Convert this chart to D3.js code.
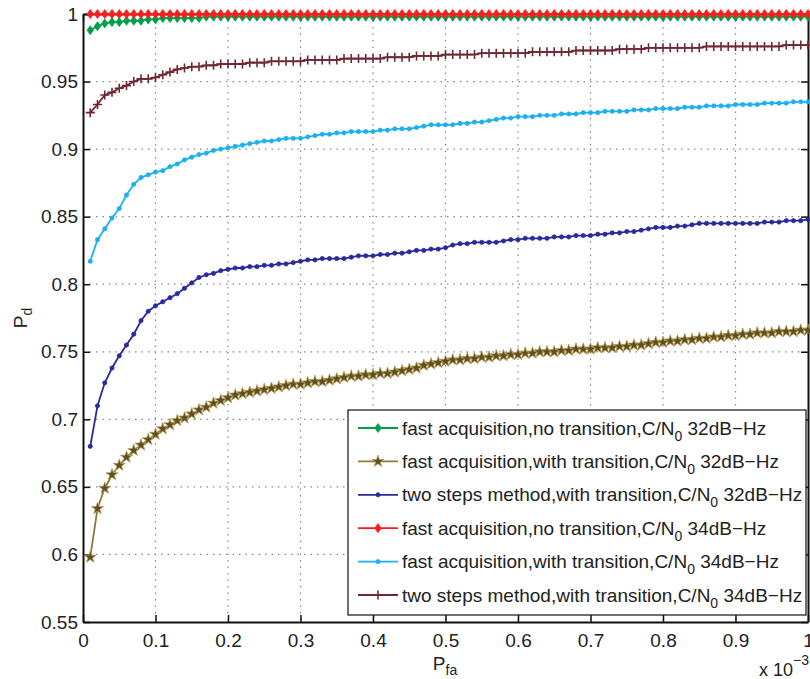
<!DOCTYPE html>
<html>
<head>
<meta charset="utf-8">
<script src="https://cdn.jsdelivr.net/npm/d3@7"></script>
<style>
body{margin:0;background:#fff}
svg{font-family:"Liberation Sans",Arial,Helvetica,sans-serif}
</style>
</head>
<body>
<div id="chart"></div>
<script>
// P_fa (x 10^-3)
const pfa = [0.01,0.02,0.03,0.04,0.05,0.06,0.07,0.08,0.09,0.10,
  0.11,0.12,0.13,0.14,0.15,0.16,0.17,0.18,0.19,0.20,
  0.21,0.22,0.23,0.24,0.25,0.26,0.27,0.28,0.29,0.30,
  0.31,0.32,0.33,0.34,0.35,0.36,0.37,0.38,0.39,0.40,
  0.41,0.42,0.43,0.44,0.45,0.46,0.47,0.48,0.49,0.50,
  0.51,0.52,0.53,0.54,0.55,0.56,0.57,0.58,0.59,0.60,
  0.61,0.62,0.63,0.64,0.65,0.66,0.67,0.68,0.69,0.70,
  0.71,0.72,0.73,0.74,0.75,0.76,0.77,0.78,0.79,0.80,
  0.81,0.82,0.83,0.84,0.85,0.86,0.87,0.88,0.89,0.90,
  0.91,0.92,0.93,0.94,0.95,0.96,0.97,0.98,0.99,1.00]

// P_d values
const fastNoTr32 = [0.988,0.991,0.993,0.994,0.994,0.995,0.995,0.995,0.996,0.996,
  0.997,0.997,0.997,0.997,0.997,0.997,0.998,0.998,0.998,0.998,
  0.998,0.998,0.998,0.998,0.998,0.998,0.998,0.998,0.998,0.998,
  0.998,0.998,0.998,0.998,0.998,0.998,0.998,0.998,0.998,0.998,
  0.998,0.998,0.998,0.998,0.998,0.998,0.998,0.998,0.998,0.998,
  0.998,0.998,0.998,0.998,0.998,0.998,0.998,0.998,0.998,0.998,
  0.998,0.998,0.998,0.998,0.998,0.998,0.998,0.998,0.998,0.998,
  0.998,0.998,0.998,0.998,0.998,0.998,0.998,0.998,0.998,0.998,
  0.998,0.998,0.998,0.998,0.998,0.998,0.998,0.998,0.998,0.998,
  0.998,0.998,0.998,0.998,0.998,0.998,0.998,0.998,0.998,0.998]

const fastTr32 = [0.598,0.634,0.649,0.659,0.666,0.672,0.677,0.681,0.685,0.689,
  0.693,0.696,0.699,0.701,0.704,0.707,0.709,0.712,0.714,0.716,
  0.718,0.719,0.720,0.721,0.722,0.723,0.724,0.725,0.726,0.726,
  0.727,0.728,0.728,0.729,0.730,0.731,0.732,0.732,0.733,0.733,
  0.734,0.734,0.735,0.736,0.737,0.738,0.740,0.741,0.742,0.743,
  0.744,0.744,0.745,0.745,0.746,0.746,0.747,0.747,0.748,0.748,
  0.749,0.749,0.750,0.750,0.750,0.751,0.751,0.752,0.752,0.752,
  0.753,0.753,0.753,0.754,0.754,0.755,0.755,0.756,0.757,0.757,
  0.758,0.758,0.759,0.759,0.760,0.760,0.761,0.761,0.762,0.762,
  0.763,0.763,0.764,0.764,0.764,0.765,0.765,0.765,0.766,0.766]

const twoStep32 = [0.680,0.710,0.727,0.738,0.747,0.755,0.763,0.773,0.780,0.784,
  0.787,0.790,0.793,0.797,0.801,0.805,0.807,0.808,0.810,0.811,
  0.812,0.812,0.813,0.813,0.814,0.814,0.815,0.815,0.816,0.817,
  0.818,0.818,0.819,0.819,0.819,0.819,0.820,0.821,0.821,0.821,
  0.822,0.822,0.823,0.823,0.824,0.825,0.825,0.826,0.826,0.827,
  0.829,0.830,0.830,0.831,0.831,0.831,0.831,0.832,0.833,0.833,
  0.834,0.834,0.834,0.834,0.835,0.835,0.835,0.836,0.836,0.836,
  0.837,0.837,0.838,0.838,0.839,0.839,0.840,0.841,0.842,0.842,
  0.842,0.843,0.843,0.844,0.845,0.845,0.845,0.845,0.845,0.845,
  0.845,0.845,0.845,0.846,0.846,0.846,0.847,0.847,0.847,0.848]

const fastNoTr34 = [1,1,1,1,1,1,1,1,1,1, 1,1,1,1,1,1,1,1,1,1,
  1,1,1,1,1,1,1,1,1,1, 1,1,1,1,1,1,1,1,1,1,
  1,1,1,1,1,1,1,1,1,1, 1,1,1,1,1,1,1,1,1,1,
  1,1,1,1,1,1,1,1,1,1, 1,1,1,1,1,1,1,1,1,1,
  1,1,1,1,1,1,1,1,1,1, 1,1,1,1,1,1,1,1,1,1]

const fastTr34 = [0.817,0.833,0.841,0.849,0.856,0.866,0.874,0.879,0.881,0.883,
  0.884,0.887,0.889,0.892,0.894,0.896,0.897,0.899,0.900,0.901,
  0.902,0.903,0.904,0.905,0.906,0.906,0.907,0.908,0.908,0.908,
  0.909,0.910,0.911,0.911,0.912,0.912,0.913,0.913,0.913,0.913,
  0.914,0.914,0.915,0.915,0.915,0.916,0.917,0.918,0.918,0.918,
  0.918,0.919,0.919,0.920,0.920,0.921,0.922,0.923,0.923,0.924,
  0.924,0.924,0.925,0.925,0.925,0.926,0.926,0.926,0.927,0.927,
  0.927,0.928,0.928,0.928,0.928,0.929,0.929,0.929,0.930,0.930,
  0.930,0.930,0.931,0.931,0.931,0.932,0.932,0.932,0.932,0.933,
  0.933,0.933,0.933,0.934,0.934,0.934,0.934,0.935,0.935,0.935]

const twoStep34 = [0.927,0.933,0.940,0.942,0.945,0.947,0.950,0.952,0.952,0.953,
  0.955,0.957,0.959,0.960,0.961,0.961,0.962,0.962,0.963,0.963,
  0.963,0.963,0.964,0.964,0.964,0.965,0.965,0.965,0.965,0.965,
  0.966,0.966,0.966,0.966,0.966,0.967,0.967,0.967,0.967,0.967,
  0.967,0.968,0.968,0.968,0.968,0.969,0.969,0.969,0.969,0.970,
  0.970,0.970,0.970,0.970,0.971,0.971,0.971,0.971,0.971,0.971,
  0.971,0.972,0.972,0.972,0.972,0.972,0.972,0.973,0.973,0.973,
  0.973,0.973,0.973,0.974,0.974,0.974,0.974,0.975,0.975,0.975,
  0.975,0.975,0.975,0.975,0.975,0.976,0.976,0.976,0.976,0.976,
  0.976,0.976,0.976,0.976,0.976,0.976,0.977,0.977,0.977,0.977]

const xTicks = [0,0.1,0.2,0.3,0.4,0.5,0.6,0.7,0.8,0.9,1]
const xTickLabels = ["0","0.1","0.2","0.3","0.4","0.5","0.6","0.7","0.8","0.9","1"]
const yTicks = [0.55,0.6,0.65,0.7,0.75,0.8,0.85,0.9,0.95,1]
const yTickLabels = ["0.55","0.6","0.65","0.7","0.75","0.8","0.85","0.9","0.95","1"]

const legendNames = ["fast acquisition,no transition,C/N", "fast acquisition,with transition,C/N",
  "two steps method,with transition,C/N", "fast acquisition,no transition,C/N",
  "fast acquisition,with transition,C/N", "two steps method,with transition,C/N"]
const legendCN = ["32dB\u2212Hz","32dB\u2212Hz","32dB\u2212Hz","34dB\u2212Hz","34dB\u2212Hz","34dB\u2212Hz"]

const seriesValues = [fastNoTr32, fastTr32, twoStep32, fastNoTr34, fastTr34, twoStep34]
// style per series: line colour, marker kind
const styles = [
  {color:'#00a04a', marker:'diamond', fill:'#00a04a'},
  {color:'#8f7a3c', marker:'star', fill:'#5e4e22'},
  {color:'#2a2a9c', marker:'dot', fill:'#2a2a9c'},
  {color:'#ff1c1c', marker:'diamond', fill:'#ff1c1c'},
  {color:'#1cb0f0', marker:'dot', fill:'#1cb0f0'},
  {color:'#6e2834', marker:'plus', fill:'#6e2834'}
]

const width = 810, height = 679
const mLeft = 83, mRight = 808, mTop = 14, mBottom = 622

const svg = d3.select('#chart').append('svg')
  .attr('width', width).attr('height', height)

const x = d3.scaleLinear().domain([0,1]).range([mLeft,mRight])
const y = d3.scaleLinear().domain([0.55,1]).range([mBottom,mTop])

// dotted grid
const grid = svg.append('g')
grid.selectAll('.vg').data(xTicks.slice(1,-1)).enter().append('line')
  .attr('x1',d=>x(d)).attr('x2',d=>x(d)).attr('y1',mTop).attr('y2',mBottom)
grid.selectAll('.hg').data(yTicks.slice(1,-1)).enter().append('line')
  .attr('x1',mLeft).attr('x2',mRight).attr('y1',d=>y(d)).attr('y2',d=>y(d))
grid.selectAll('line').attr('stroke','#888').attr('stroke-width',1.2)
  .attr('stroke-dasharray','1.5,5')

// axes with inward ticks, MATLAB style box
const fmtX = (d,i) => xTickLabels[i]
const fmtY = (d,i) => yTickLabels[i]
svg.append('g').attr('transform',`translate(0,${mBottom})`)
  .call(d3.axisBottom(x).tickValues(xTicks).tickFormat(fmtX).tickSizeInner(-7).tickSizeOuter(0).tickPadding(12))
svg.append('g').attr('transform',`translate(${mLeft},0)`)
  .call(d3.axisLeft(y).tickValues(yTicks).tickFormat(fmtY).tickSizeInner(-7).tickSizeOuter(0).tickPadding(5))
svg.append('g').attr('transform',`translate(0,${mTop})`)
  .call(d3.axisTop(x).tickValues(xTicks).tickFormat('').tickSizeInner(-7).tickSizeOuter(0))
svg.append('g').attr('transform',`translate(${mRight},0)`)
  .call(d3.axisRight(y).tickValues(yTicks).tickFormat('').tickSizeInner(-7).tickSizeOuter(0))
svg.selectAll('.domain').attr('stroke','#111').attr('stroke-width',2)
svg.selectAll('.tick line').attr('stroke','#111').attr('stroke-width',1.5)
svg.selectAll('.tick text').attr('font-size',19).attr('fill','#222')
  .attr('font-family','"Liberation Sans",Arial,sans-serif')

// marker shapes
const markerPath = {
  diamond: 'M0,-4.5L3.2,0L0,4.5L-3.2,0Z',
  star: d3.symbol(d3.symbolStar, 45)(),
  dot: d3.symbol(d3.symbolCircle, 14)(),
  plus: 'M-4.5,0H4.5M0,-4.5V4.5'
}
const drawMarker = (sel, st) => {
  sel.append('path').attr('d', markerPath[st.marker])
    .attr('fill', st.marker==='plus' ? 'none' : st.fill)
    .attr('stroke', st.marker==='star' ? '#b8a055' : st.color)
    .attr('stroke-width', st.marker==='plus' ? 1.6 : 0.8)
}

const line = d3.line().x((d,i)=>x(pfa[i])).y(d=>y(d))

seriesValues.forEach((vals, k) => {
  const st = styles[k]
  const g = svg.append('g')
  g.append('path').datum(vals).attr('d', line)
    .attr('fill','none').attr('stroke', st.color).attr('stroke-width', 1.8)
  g.selectAll('g').data(vals).enter().append('g')
    .attr('transform',(d,i)=>`translate(${x(pfa[i])},${y(d)})`)
    .each(function(){ drawMarker(d3.select(this), st) })
})

// legend
const lg = svg.append('g')
lg.append('rect').attr('x',348).attr('y',410).attr('width',458).attr('height',205)
  .attr('fill','#fff').attr('stroke','#111').attr('stroke-width',1.2)
const rowY = d3.scaleLinear().domain([0,5]).range([428,595])
legendNames.forEach((name, k) => {
  const st = styles[k]
  const ry = rowY(k)
  lg.append('line').attr('x1',358).attr('x2',398).attr('y1',ry).attr('y2',ry)
    .attr('stroke',st.color).attr('stroke-width',1.8)
  drawMarker(lg.append('g').attr('transform',`translate(378,${ry})`), st)
  const t = lg.append('text').attr('x',402).attr('y',ry+6.5)
    .attr('font-size',19).attr('fill','#222')
  t.append('tspan').text(name)
  t.append('tspan').attr('dy',6).attr('font-size',14).text('0')
  t.append('tspan').attr('dy',-6).text(' ' + legendCN[k])
})

// axis labels
const yl = svg.append('text').attr('transform','translate(27,318) rotate(-90)')
  .attr('text-anchor','middle').attr('font-size',19).attr('fill','#222')
yl.append('tspan').text('P')
yl.append('tspan').attr('dy',5).attr('font-size',14).text('d')

const xl = svg.append('text').attr('x',445).attr('y',670)
  .attr('text-anchor','middle').attr('font-size',19).attr('fill','#222')
xl.append('tspan').text('P')
xl.append('tspan').attr('dy',5).attr('font-size',14).text('fa')

const ex = svg.append('text').attr('x',759).attr('y',676)
  .attr('font-size',18).attr('fill','#222')
ex.append('tspan').text('x 10')
ex.append('tspan').attr('dy',-11).attr('font-size',14).text('\u22123')
</script>
</body>
</html>
